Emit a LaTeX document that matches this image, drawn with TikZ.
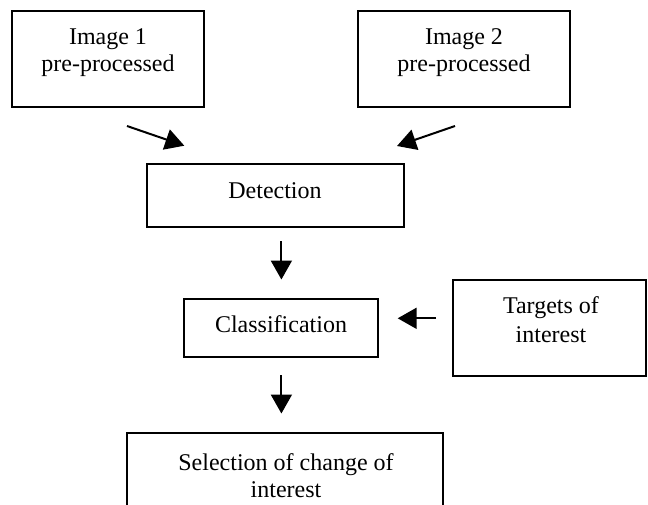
\documentclass[tikz,border=0pt]{standalone}
\usepackage{fontspec}
\setmainfont{Liberation Serif}
\usetikzlibrary{arrows.meta}
\begin{document}
\begin{tikzpicture}[x=1pt,y=-1pt,
  box/.style={draw=black, line width=2pt, rectangle, inner sep=0pt},
  lbl/.style={anchor=base, inner sep=0pt, font=\fontsize{24}{28}\selectfont},
  flow/.style={line width=2pt, -{Triangle[length=19pt,width=21pt]}}]
\clip (0,0) rectangle (648,504);
% boxes
\node[box, minimum width=192pt, minimum height=96pt] (img1) at (108,59) {};
\node[box, minimum width=212pt, minimum height=96pt] (img2) at (464,59) {};
\node[box, minimum width=257pt, minimum height=63pt] (det) at (275.3,195.6) {};
\node[box, minimum width=194pt, minimum height=58pt] (cls) at (281,327.8) {};
\node[box, minimum width=193pt, minimum height=96pt] (tgt) at (549.5,328) {};
\node[box, minimum width=316pt, minimum height=80pt] (sel) at (285.2,473.3) {};
% texts
\node[lbl] (t1a) at (108,44.3) {Image 1};
\node[lbl] (t1b) at (108,71) {pre-processed};
\node[lbl] (t2a) at (464,44.3) {Image 2};
\node[lbl] (t2b) at (464,71) {pre-processed};
\node[lbl] (tdet) at (275,198.3) {Detection};
\node[lbl] (tcls) at (281,332.7) {Classification};
\node[lbl] (ttga) at (551,313) {Targets of};
\node[lbl] (ttgb) at (551,342) {interest};
\node[lbl] (tsla) at (286,470) {Selection of change of};
\node[lbl] (tslb) at (286,497) {interest};
% arrow end points
\coordinate (a1s) at (127,126);
\coordinate (a1e) at (184.3,145.7);
\coordinate (a2s) at (455,126);
\coordinate (a2e) at (397,146);
\coordinate (a3s) at (281.4,241);
\coordinate (a3e) at (281.4,279.5);
\coordinate (a4s) at (436,318.3);
\coordinate (a4e) at (397.7,318.3);
\coordinate (a5s) at (281.4,375);
\coordinate (a5e) at (281.4,413.5);
\draw[flow] (a1s) -- (a1e);
\draw[flow] (a2s) -- (a2e);
\draw[flow] (a3s) -- (a3e);
\draw[flow] (a4s) -- (a4e);
\draw[flow] (a5s) -- (a5e);
\end{tikzpicture}
\end{document}
